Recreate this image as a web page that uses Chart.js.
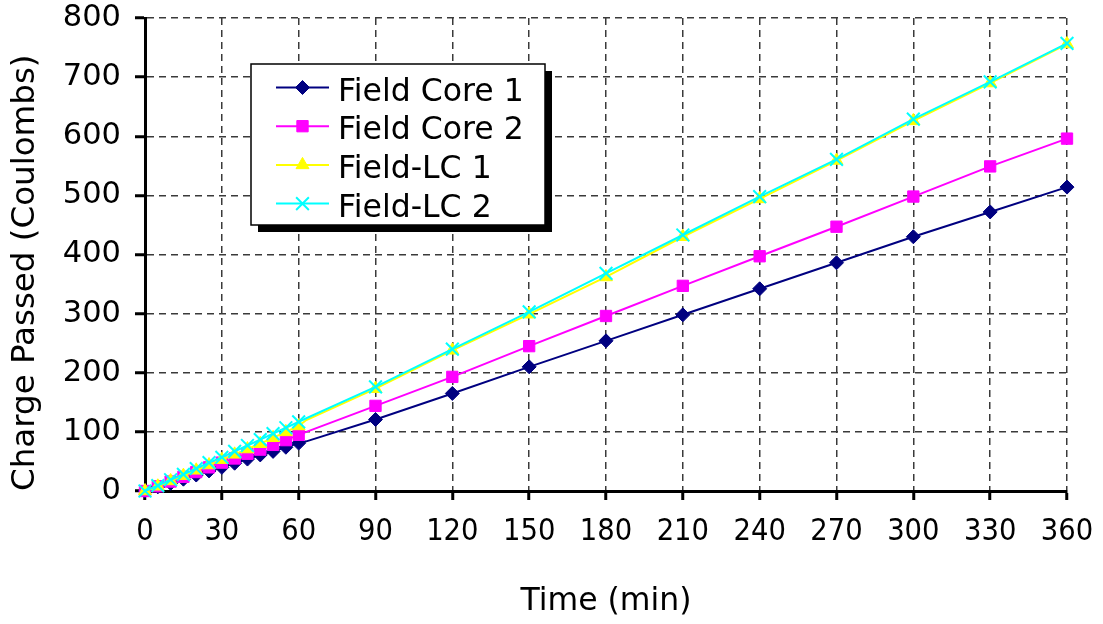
<!DOCTYPE html>
<html><head><meta charset="utf-8">
<script src="https://cdn.jsdelivr.net/npm/chart.js@4"></script>
<style>html,body{margin:0;padding:0;background:#fff;}#wrap{width:1103px;height:624px;}</style>
</head><body>
<div id="wrap"><canvas id="c" width="1103" height="624"></canvas></div>
<script>
// ---- data ----
const times       = [0,5,10,15,20,25,30,35,40,45,50,55,60,63,90,120,150,180,210,240,270,300,330,360];
const fieldCore1  = [0,7,13,20,27,34,40,47,54,61,67,74,81,84,121,165,210,254,298,342,386,430,472,514];
const fieldCore2  = [0,8,16,24,32,40,48,55,63,70,78,86,95,100,144,193,245,296,347,397,447,498,549,596];
const fieldLC1    = [0,8,17,26,35,44,53,62,71,80,90,100,110,120,173,238,299,362,430,494,559,626,690,756];
const fieldLC2    = [0,9,19,28,38,48,57,67,77,87,97,107,117,123,176,240,303,368,433,498,561,629,692,757];
const seriesNames = ['Field Core 1','Field Core 2','Field-LC 1','Field-LC 2'];
const xTickValues = [0,30,60,90,120,150,180,210,240,270,300,330,360];
const yTickValues = [0,100,200,300,400,500,600,700,800];
const xTitle = 'Time (min)';
const yTitle = 'Charge Passed (Coulombs)';

// ---- styles ----
const styles = [
  {color:'#000080', pointStyle:'rectRot',  radius:7,   pbw:1},
  {color:'#FF00FF', pointStyle:'rect',     radius:8,   pbw:1},
  {color:'#FFFF00', pointStyle:'triangle', radius:7.5, pbw:1},
  {color:'#00FFFF', pointStyle:'crossRot', radius:9,   pbw:2}
];
const allSeries = [fieldCore1, fieldCore2, fieldLC1, fieldLC2];

function markerShown(t){ return t <= 60 || t % 30 === 0; }

const datasets = allSeries.map((vals, i) => ({
  label: seriesNames[i],
  data: times.map((t, k) => ({x: t, y: vals[k]})),
  borderColor: styles[i].color,
  backgroundColor: styles[i].color,
  pointBackgroundColor: styles[i].color,
  pointBorderColor: styles[i].color,
  pointBorderWidth: styles[i].pbw,
  pointStyle: styles[i].pointStyle,
  pointRadius: ctx => markerShown(times[ctx.dataIndex]) ? styles[i].radius : 0,
  pointHoverRadius: ctx => markerShown(times[ctx.dataIndex]) ? styles[i].radius : 0,
  borderWidth: 2,
  tension: 0,
  fill: false,
  clip: false,
  order: 3 - i
}));

const boxLegend = {
  id: 'boxLegend',
  afterDraw(chart) {
    const ctx = chart.ctx;
    const bx = 251, by = 64, bw = 294, bh = 161, sh = 7;
    ctx.save();
    ctx.fillStyle = '#000';
    ctx.fillRect(bx + sh, by + sh, bw, bh);
    ctx.fillStyle = '#fff';
    ctx.fillRect(bx, by, bw, bh);
    ctx.strokeStyle = '#000';
    ctx.lineWidth = 1.5;
    ctx.strokeRect(bx, by, bw, bh);
    chart.data.datasets.forEach((ds, i) => {
      const y = 87.5 + i * 38.7;
      const st = styles[i];
      ctx.strokeStyle = st.color;
      ctx.lineWidth = 2;
      ctx.beginPath(); ctx.moveTo(276, y); ctx.lineTo(329, y); ctx.stroke();
      ctx.fillStyle = st.color;
      ctx.strokeStyle = st.color;
      ctx.lineWidth = st.pbw;
      Chart.helpers.drawPoint(ctx, {pointStyle: st.pointStyle, radius: st.radius, borderWidth: st.pbw, rotation: 0}, 302.5, y);
      ctx.fillStyle = '#000';
      ctx.font = '31.5px "DejaVu Sans"';
      ctx.textAlign = 'left';
      ctx.textBaseline = 'alphabetic';
      ctx.fillText(ds.label, 338, y + 13);
    });
    ctx.restore();
  }
};

const gridCommon = {
  color: '#3a3a3a', lineWidth: 1.5,
  tickColor: '#000', tickWidth: 3, tickBorderDash: []
};

function zeroPad(s){ s.paddingTop = 0; s.paddingBottom = 0; s.paddingLeft = 0; s.paddingRight = 0; }

new Chart(document.getElementById('c'), {
  type: 'line',
  data: { datasets },
  options: {
    responsive: false,
    animation: false,
    events: [],
    layout: { padding: { top: 18, right: 36, left: 0, bottom: 0 } },
    plugins: { legend: { display: false }, tooltip: { enabled: false } },
    scales: {
      x: {
        type: 'linear', min: 0, max: 360,
        afterBuildTicks: s => { s.ticks = xTickValues.map(v => ({value: v})); },
        afterFit: s => { s.height = 133; zeroPad(s); },
        ticks: { autoSkip: false, maxRotation: 0, color: '#000', padding: 14,
                 font: { family: '"DejaVu Sans Condensed", "Liberation Sans", sans-serif', size: 30.5 } },
        grid: Object.assign({}, gridCommon, { tickLength: 9 }),
        border: { display: true, color: '#000', width: 3, dash: [7, 5] },
        title: { display: true, text: xTitle, color: '#000',
                 font: { family: '"DejaVu Sans"', size: 31.5 }, padding: { top: 0, bottom: 3 } }
      },
      y: {
        type: 'linear', min: 0, max: 800,
        afterBuildTicks: s => { s.ticks = yTickValues.map(v => ({value: v})); },
        afterFit: s => { s.width = 145; zeroPad(s); },
        ticks: { autoSkip: false, color: '#000', padding: 14,
                 font: { family: '"DejaVu Sans"', size: 30.5 } },
        grid: Object.assign({}, gridCommon, { tickLength: 10 }),
        border: { display: true, color: '#000', width: 3, dash: [7, 5] },
        title: { display: true, text: yTitle, color: '#000', align: 'start',
                 font: { family: '"DejaVu Sans"', size: 32.5 }, padding: { top: 6.5, bottom: 0 } }
      }
    }
  },
  plugins: [boxLegend]
});
</script>
</body></html>
